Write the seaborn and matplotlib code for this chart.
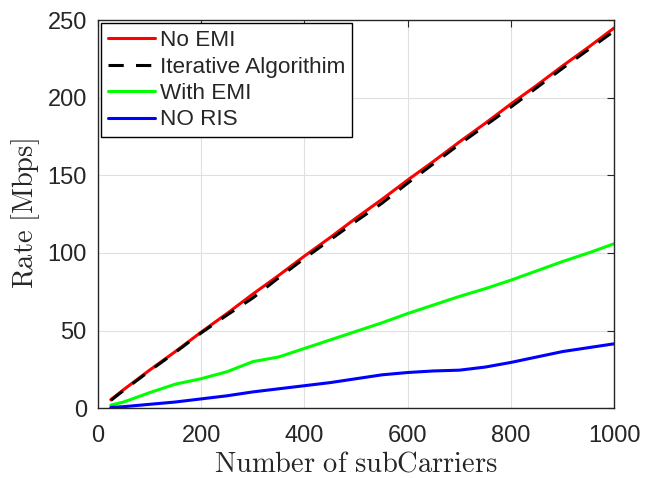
import matplotlib

matplotlib.use("Agg")
import matplotlib.pyplot as plt
import pandas as pd
import seaborn as sns

sns.set_theme(style="white")
plt.rcParams["font.family"] = ["Liberation Sans", "DejaVu Sans"]
plt.rcParams["mathtext.fontset"] = "cm"

# subcarrier counts and rates [Mbps]
subcarriers = [25, 50, 100, 150, 200, 250, 300, 350, 400, 450, 500,
               550, 600, 650, 700, 750, 800, 850, 900, 950, 1000]
no_emi = [5.5, 12, 24.5, 36.5, 49, 61, 73.5, 85.5, 98, 110, 122.5,
          134.5, 147, 159, 171.5, 183.5, 196, 208, 220.5, 232.5, 245]
iterative = [5, 11.5, 24, 36, 48.5, 60, 71, 84, 96.5, 108.5, 120.5,
             132, 145, 157.5, 170, 182, 194, 206.5, 219, 231, 243]
with_emi = [2, 4, 10, 15.5, 19, 23.5, 30, 33, 38.5, 44, 49.5,
            55, 61, 66.5, 72, 77, 82.5, 88.5, 94.5, 100, 106]
no_ris = [0.5, 1, 2.5, 4, 6, 8, 10.5, 12.5, 14.5, 16.5, 19,
          21.5, 23, 24, 24.5, 26.5, 29.5, 33, 36.5, 39, 41.5]

series = {
    "No EMI": no_emi,
    "Iterative Algorithim": iterative,
    "With EMI": with_emi,
    "NO RIS": no_ris,
}
long = pd.concat(
    [pd.DataFrame({"N": subcarriers, "rate": v, "curve": k}) for k, v in series.items()],
    ignore_index=True,
)

palette = {"No EMI": "#ff0000", "Iterative Algorithim": "#000000",
           "With EMI": "#00ff00", "NO RIS": "#0000ff"}
dashes = {"No EMI": "", "Iterative Algorithim": (5, 4),
          "With EMI": "", "NO RIS": ""}

fig = plt.figure(figsize=(6.57, 4.78), dpi=100)
ax = fig.add_axes([0.149, 0.146, 0.786, 0.812])
sns.lineplot(data=long, x="N", y="rate", hue="curve", style="curve",
             palette=palette, dashes=dashes, lw=2.2, ax=ax, sort=False)

ax.set_xlim(0, 1000)
ax.set_ylim(0, 250)
ax.set_xticks(range(0, 1001, 200))
ax.set_yticks(range(0, 251, 50))
ax.grid(True, color="#e0e0e0", lw=0.8)
ax.tick_params(direction="in", length=5, width=0.8, labelsize=17,
               top=True, right=True, colors="#262626")
ax.tick_params(axis="x", pad=12)
ax.tick_params(axis="y", pad=8)
for sp in ax.spines.values():
    sp.set_color("#262626")
    sp.set_linewidth(1.0)

ax.set_xlabel(r"$\mathrm{Number\ of\ subCarriers}$", fontsize=20.5, labelpad=3)
ax.set_ylabel(r"$\mathrm{Rate\ [Mbps]}$", fontsize=20.5, labelpad=4)

leg = ax.legend(loc="upper left", fontsize=16.2, frameon=True, fancybox=False,
                edgecolor="black", framealpha=1, borderaxespad=0.15,
                handlelength=2.1, handletextpad=0.2, labelspacing=0.24,
                borderpad=0.3)
leg.get_frame().set_linewidth(1.0)
for line in leg.get_lines():
    line.set_linewidth(2.2)

fig.savefig("out.png", dpi=100)
plt.close(fig)
